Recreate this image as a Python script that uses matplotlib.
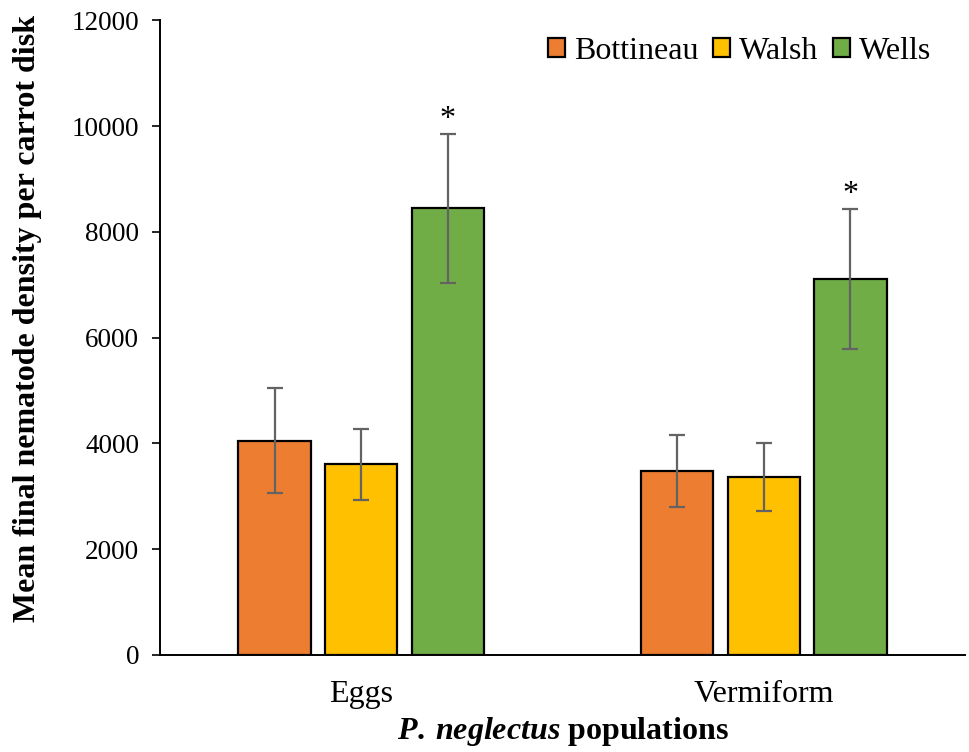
import matplotlib
matplotlib.use("Agg")
import matplotlib.pyplot as plt
import numpy as np

stages = ["Eggs", "Vermiform"]
populations = ["Bottineau", "Walsh", "Wells"]
bottineau = [4055, 3475]
walsh = [3605, 3365]
wells = [8445, 7115]
bottineau_err = [985, 680]
walsh_err = [670, 637]
wells_err = [1410, 1325]
significant = [False, False, True]

colors = ["#ED7D31", "#FFC000", "#70AD47"]

plt.rcParams["font.family"] = ["Liberation Serif", "DejaVu Serif"]
plt.rcParams["mathtext.fontset"] = "custom"
plt.rcParams["mathtext.it"] = "Liberation Serif:italic:bold"
plt.rcParams["mathtext.rm"] = "Liberation Serif:bold"

fig = plt.figure(figsize=(9.69, 7.52), dpi=100)
ax = fig.add_axes([0.165, 0.129, 0.831, 0.844])

x = np.arange(len(stages))
width = 0.18
step = 0.215
series = [bottineau, walsh, wells]
errs = [bottineau_err, walsh_err, wells_err]

for i, (vals, err, name, col) in enumerate(zip(series, errs, populations, colors)):
    pos = x + (i - 1) * step
    ax.bar(pos, vals, width, color=col, edgecolor="black", linewidth=1.6,
           label=name, zorder=2)
    ax.errorbar(pos, vals, yerr=err, fmt="none", ecolor="#636363",
                elinewidth=1.6, capsize=6, capthick=1.6, zorder=3)
    if significant[i]:
        for p, v, e in zip(pos, vals, err):
            ax.annotate("*", (p, v + e), xytext=(0, 0), textcoords="offset points",
                        ha="center", va="bottom", fontsize=23)

ax.set_xlim(-0.5, 1.5)
ax.set_ylim(0, 12000)
ax.set_yticks(np.arange(0, 12001, 2000))
ax.set_xticks(x)
ax.set_xticklabels(stages)
ax.tick_params(axis="x", length=0, pad=18, labelsize=23)
ax.tick_params(axis="y", direction="out", length=6, width=1.2, labelsize=19.5, pad=9)

for s in ["top", "right"]:
    ax.spines[s].set_visible(False)
ax.spines["left"].set_linewidth(1.4)
ax.spines["bottom"].set_linewidth(1.4)

ax.set_ylabel("Mean final nematode density per carrot disk", fontsize=23,
              fontweight="bold")
ax.yaxis.set_label_coords(-0.147, 0.531)
ax.set_xlabel(r"$\mathit{P.\:neglectus}$ populations", fontsize=23,
              fontweight="bold", labelpad=4)

leg = ax.legend(loc="upper right", bbox_to_anchor=(0.982, 1.004), ncol=3, frameon=False,
                fontsize=23, handlelength=0.52, handleheight=0.52,
                handletextpad=0.3, columnspacing=0.45, borderaxespad=0.2)

fig.savefig("out.png", dpi=100)
